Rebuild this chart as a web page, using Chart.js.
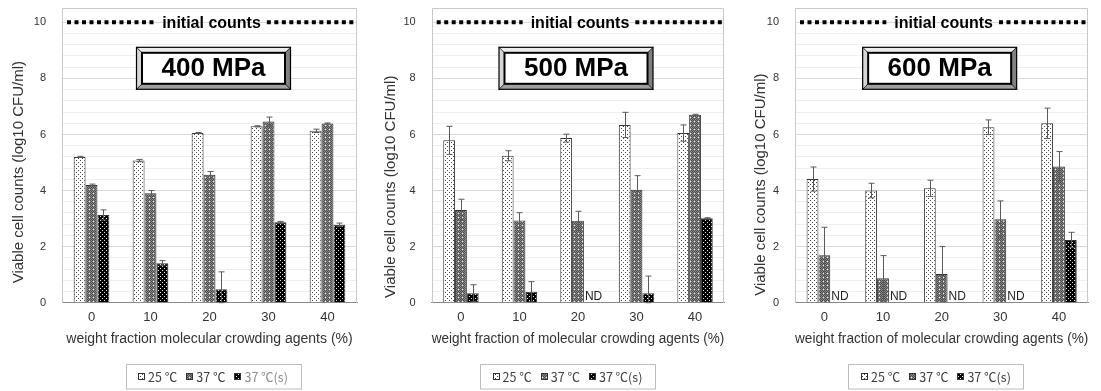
<!DOCTYPE html>
<html>
<head>
<meta charset="utf-8">
<script src="https://cdn.jsdelivr.net/npm/chart.js@4.4.0/dist/chart.umd.min.js"></script>
<style>
  body { margin: 0; background: #fff; width: 1101px; height: 391px; overflow: hidden; position: relative; }
  canvas { position: absolute; top: 0; }
</style>
</head>
<body>
<canvas id="c400" width="365" height="391" style="left:0px"></canvas>
<canvas id="c500" width="365" height="391" style="left:365px"></canvas>
<canvas id="c600" width="371" height="391" style="left:730px"></canvas>
<script>
// categorias y series
const categories = ["0", "10", "20", "30", "40"];
const seriesLabels = ["25 \u2103", "37 \u2103", "37 \u2103(s)"];
const yTickLabels = [0, 2, 4, 6, 8, 10];
const initialCount = 10;

// 400 MPa
const mpa400_25 = [5.20, 5.07, 6.05, 6.29, 6.13];
const mpa400_25err = [0.02, 0.04, 0.02, 0.02, 0.06];
const mpa400_37 = [4.20, 3.90, 4.56, 6.46, 6.39];
const mpa400_37err = [0.03, 0.10, 0.12, 0.16, 0.02];
const mpa400_37s = [3.13, 1.41, 0.48, 2.87, 2.78];
const mpa400_37serr = [0.18, 0.09, 0.62, 0.03, 0.06];

// 500 MPa
const mpa500_25 = [5.79, 5.24, 5.87, 6.34, 6.05];
const mpa500_25err = [0.50, 0.18, 0.14, 0.45, 0.29];
const mpa500_37 = [3.31, 2.93, 2.92, 4.03, 6.70];
const mpa500_37err = [0.38, 0.28, 0.34, 0.50, 0.02];
const mpa500_37s = [0.34, 0.39, null, 0.34, 3.01];
const mpa500_37serr = [0.30, 0.36, 0, 0.61, 0.02];

// 600 MPa
const mpa600_25 = [4.41, 4.00, 4.08, 6.26, 6.40];
const mpa600_25err = [0.43, 0.26, 0.29, 0.26, 0.54];
const mpa600_37 = [1.69, 0.87, 1.02, 2.98, 4.86];
const mpa600_37err = [1.00, 0.81, 0.98, 0.65, 0.53];
const mpa600_37s = [null, null, null, null, 2.24];
const mpa600_37serr = [0, 0, 0, 0, 0.27];

Chart.defaults.font.family = "'Liberation Sans', Arial, sans-serif";
Chart.defaults.color = "#333";

//Patrones de relleno
function makePattern(size, paint) {
  const c = document.createElement("canvas");
  c.width = size; c.height = size;
  const g = c.getContext("2d");
  paint(g);
  return g.createPattern(c, "repeat");
}
const pat25 = makePattern(4, g => {
  g.fillStyle = "#fff"; g.fillRect(0, 0, 4, 4);
  g.fillStyle = "#444"; g.fillRect(0, 0, 1, 1); g.fillRect(2, 2, 1, 1);
});
const pat37 = makePattern(4, g => {
  for (let x = 0; x < 4; x++) for (let y = 0; y < 4; y++) {
    g.fillStyle = (x + y) % 2 ? "#8c8c8c" : "#4a4a4a";
    g.fillRect(x, y, 1, 1);
  }
  g.fillStyle = "#f0f0f0"; g.fillRect(1, 1, 1, 1);
});
const pat37s = makePattern(4, g => {
  g.fillStyle = "#000"; g.fillRect(0, 0, 4, 4);
  g.fillStyle = "#e6e6e6"; g.fillRect(0, 0, 1, 1); g.fillRect(2, 2, 1, 1);
});
const patterns = [pat25, pat37, pat37s];

//Barras de error
const errorBars = {
  id: "errorBars",
  afterDatasetsDraw(chart) {
    const ctx = chart.ctx, y = chart.scales.y;
    ctx.save();
    ctx.strokeStyle = "#5a5a5a";
    ctx.lineWidth = 1;
    chart.data.datasets.forEach((ds, i) => {
      const meta = chart.getDatasetMeta(i);
      ds.data.forEach((v, j) => {
        const e = ds.errors[j];
        if (v === null || !e) return;
        const x = Math.round(meta.data[j].x) + 0.5;
        const top = y.getPixelForValue(v + e), bot = y.getPixelForValue(Math.max(v - e, 0));
        ctx.beginPath();
        ctx.moveTo(x, top); ctx.lineTo(x, bot);
        ctx.moveTo(x - 3, top); ctx.lineTo(x + 3, top);
        ctx.moveTo(x - 3, bot); ctx.lineTo(x + 3, bot);
        ctx.stroke();
      });
    });
    ctx.restore();
  }
};

//Etiqueta ND donde no hay dato
const ndLabels = {
  id: "ndLabels",
  afterDatasetsDraw(chart) {
    const ctx = chart.ctx;
    const ds = chart.data.datasets[2];
    const prev = chart.getDatasetMeta(1);
    ctx.save();
    ctx.font = "12px 'Liberation Sans', Arial, sans-serif";
    ctx.fillStyle = "#222";
    ctx.textAlign = "left";
    ctx.textBaseline = "alphabetic";
    ds.data.forEach((v, j) => {
      if (v !== null) return;
      const bar = prev.data[j];
      ctx.fillText("ND", bar.x + bar.width / 2 + 1, chart.chartArea.bottom - 2.5);
    });
    ctx.restore();
  }
};

//Marco, linea de conteo inicial y titulo
const decor = {
  id: "decor",
  beforeDatasetsDraw(chart) {
    const { ctx, chartArea: a } = chart;
    ctx.save();
    ctx.strokeStyle = "#c8c8c8";
    ctx.lineWidth = 1;
    ctx.beginPath();
    ctx.moveTo(Math.round(a.left) + 0.5, a.bottom);
    ctx.lineTo(Math.round(a.left) + 0.5, Math.round(a.top) + 0.5);
    ctx.lineTo(Math.round(a.right) - 0.5, Math.round(a.top) + 0.5);
    ctx.lineTo(Math.round(a.right) - 0.5, a.bottom);
    ctx.stroke();
    ctx.restore();
  },
  afterDatasetsDraw(chart, args, opts) {
    const { ctx, chartArea: a } = chart;
    const yv = chart.scales.y.getPixelForValue(initialCount);
    const cx = (a.left + a.right) / 2 + 2;
    ctx.save();
    ctx.font = "bold 16px 'Liberation Sans', Arial, sans-serif";
    const tw = ctx.measureText("initial counts").width;
    ctx.strokeStyle = "#000";
    ctx.lineWidth = 4;
    ctx.setLineDash([4, 3.5]);
    ctx.beginPath();
    ctx.moveTo(a.left + 5, yv); ctx.lineTo(cx - tw / 2 - 8, yv);
    ctx.moveTo(cx + tw / 2 + 6, yv); ctx.lineTo(a.right - 1, yv);
    ctx.stroke();
    ctx.setLineDash([]);
    ctx.fillStyle = "#000";
    ctx.textAlign = "center";
    ctx.textBaseline = "middle";
    ctx.fillText("initial counts", cx, yv + 1);

    // recuadro biselado con la presion
    const w = 154, h = 42, b = 5.5;
    const x0 = (a.left + a.right) / 2 + opts.boxShift - w / 2, y0 = a.top + 39;
    const x1 = x0 + w, y1 = y0 + h;
    const quad = (pts, col) => {
      ctx.beginPath(); ctx.moveTo(pts[0], pts[1]);
      for (let k = 2; k < pts.length; k += 2) ctx.lineTo(pts[k], pts[k + 1]);
      ctx.closePath(); ctx.fillStyle = col; ctx.fill();
    };
    quad([x0, y0, x1, y0, x1 - b, y0 + b, x0 + b, y0 + b], "#ececec");
    quad([x0, y0, x0 + b, y0 + b, x0 + b, y1 - b, x0, y1], "#d6d6d6");
    quad([x1, y0, x1, y1, x1 - b, y1 - b, x1 - b, y0 + b], "#808080");
    quad([x0, y1, x0 + b, y1 - b, x1 - b, y1 - b, x1, y1], "#a0a0a0");
    ctx.fillStyle = "#fff";
    ctx.fillRect(x0 + b, y0 + b, w - 2 * b, h - 2 * b);
    ctx.strokeStyle = "#000";
    ctx.lineWidth = 1.2;
    ctx.strokeRect(x0, y0, w, h);
    ctx.lineWidth = 2;
    ctx.strokeRect(x0 + b, y0 + b, w - 2 * b, h - 2 * b);
    ctx.lineWidth = 0.8;
    ctx.beginPath();
    ctx.moveTo(x0, y0); ctx.lineTo(x0 + b, y0 + b);
    ctx.moveTo(x1, y0); ctx.lineTo(x1 - b, y0 + b);
    ctx.moveTo(x0, y1); ctx.lineTo(x0 + b, y1 - b);
    ctx.moveTo(x1, y1); ctx.lineTo(x1 - b, y1 - b);
    ctx.stroke();
    ctx.font = "bold 26px 'Liberation Sans', Arial, sans-serif";
    ctx.fillStyle = "#000";
    ctx.textAlign = "center";
    ctx.textBaseline = "middle";
    ctx.fillText(opts.title, (x0 + x1) / 2, (y0 + y1) / 2 + 1);
    ctx.restore();
  }
};

//Leyenda con marco
const boxLegend = {
  id: "boxLegend",
  afterDraw(chart, args, opts) {
    const { ctx, chartArea: a } = chart;
    const bw = 175, bh = 24.5, top = 364;
    const left = (a.left + a.right) / 2 + opts.shift - bw / 2;
    ctx.save();
    ctx.strokeStyle = "#bdbdbd";
    ctx.lineWidth = 1;
    ctx.strokeRect(Math.round(left) + 0.5, top + 0.5, bw, bh);
    ctx.font = "12.5px 'Noto Sans CJK JP', 'Noto Sans', sans-serif";
    ctx.textBaseline = "middle";
    const sw = 7, gapS = 3, gapI = 9;
    const widths = seriesLabels.map(t => ctx.measureText(t).width);
    const total = widths.reduce((s, t) => s + t + sw + gapS, 0) + gapI * 2;
    let x = left + (bw - total) / 2;
    const cy = top + bh / 2 + 0.5;
    seriesLabels.forEach((t, i) => {
      ctx.fillStyle = patterns[i];
      ctx.fillRect(Math.round(x), Math.round(cy - sw / 2), sw, sw);
      ctx.strokeStyle = "#333";
      ctx.strokeRect(Math.round(x) + 0.5, Math.round(cy - sw / 2) + 0.5, sw - 1, sw - 1);
      x += sw + gapS;
      ctx.fillStyle = (i === 2 && opts.lastColor) ? opts.lastColor : "#404040";
      ctx.fillText(t, x, cy);
      x += widths[i] + gapI;
    });
    ctx.restore();
  }
};

function buildChart(p) {
  const datasets = p.values.map((vals, i) => ({
    label: seriesLabels[i],
    data: vals,
    errors: p.errors[i],
    backgroundColor: patterns[i],
    borderColor: "#333",
    borderWidth: 1,
    categoryPercentage: 0.605,
    barPercentage: 1.0
  }));
  return new Chart(document.getElementById(p.id), {
    type: "bar",
    data: { labels: categories, datasets: datasets },
    options: {
      responsive: false,
      animation: false,
      layout: { padding: { left: p.padLeft, right: p.padRight, top: 8.3, bottom: 39.6 } },
      plugins: {
        legend: { display: false },
        tooltip: { enabled: false },
        decor: { title: p.title, boxShift: p.boxShift },
        boxLegend: { shift: p.legendShift, lastColor: p.lastColor }
      },
      scales: {
        x: {
          grid: { display: false, drawTicks: false },
          border: { display: true, color: "#8a8a8a" },
          ticks: { font: { size: 13 }, padding: 7, color: "#333" },
          title: { display: true, text: p.xTitle, font: { size: 14 }, color: "#333" },
          afterFit: s => { s.height = 48.7; s.paddingLeft = 0; s.paddingRight = 0; }
        },
        y: {
          min: 0,
          max: 10.5,
          grid: {
            drawTicks: false,
            color: c => (c.tick && yTickLabels.includes(Math.round(c.tick.value * 10) / 10)) ? "#d9d9d9" : "#efefef"
          },
          border: { display: false },
          ticks: {
            stepSize: 0.4,
            autoSkip: false,
            padding: 16,
            font: { size: 11 },
            color: "#333",
            callback: v => yTickLabels.includes(Math.round(v * 10) / 10) ? String(Math.round(v)) : ""
          },
          title: {
            display: true,
            text: "Viable cell counts (log10 CFU/ml)" + " ".repeat(p.titleSpaces),
            font: { size: 15 },
            color: "#333"
          },
          afterFit: s => { s.width = p.yWidth; s.paddingTop = 0; s.paddingBottom = 0; }
        }
      }
    },
    plugins: [decor, errorBars, ndLabels, boxLegend]
  });
}

buildChart({
  id: "c400", title: "400 MPa",
  xTitle: "weight fraction molecular crowding agents (%)",
  values: [mpa400_25, mpa400_37, mpa400_37s],
  errors: [mpa400_25err, mpa400_37err, mpa400_37serr],
  padLeft: 6, padRight: 8, yWidth: 56, titleSpaces: 8,
  boxShift: 4, legendShift: 3.5, lastColor: "#8c8c8c"
});
buildChart({
  id: "c500", title: "500 MPa",
  xTitle: "weight fraction of molecular crowding agents (%)",
  values: [mpa500_25, mpa500_37, mpa500_37s],
  errors: [mpa500_25err, mpa500_37err, mpa500_37serr],
  padLeft: 13, padRight: 5.7, yWidth: 53.7, titleSpaces: 15,
  boxShift: -2, legendShift: -10.5
});
buildChart({
  id: "c600", title: "600 MPa",
  xTitle: "weight fraction of molecular crowding agents (%)",
  values: [mpa600_25, mpa600_37, mpa600_37s],
  errors: [mpa600_25err, mpa600_37err, mpa600_37serr],
  padLeft: 18, padRight: 12.7, yWidth: 47, titleSpaces: 14,
  boxShift: -2, legendShift: -5.7
});
</script>
</body>
</html>
